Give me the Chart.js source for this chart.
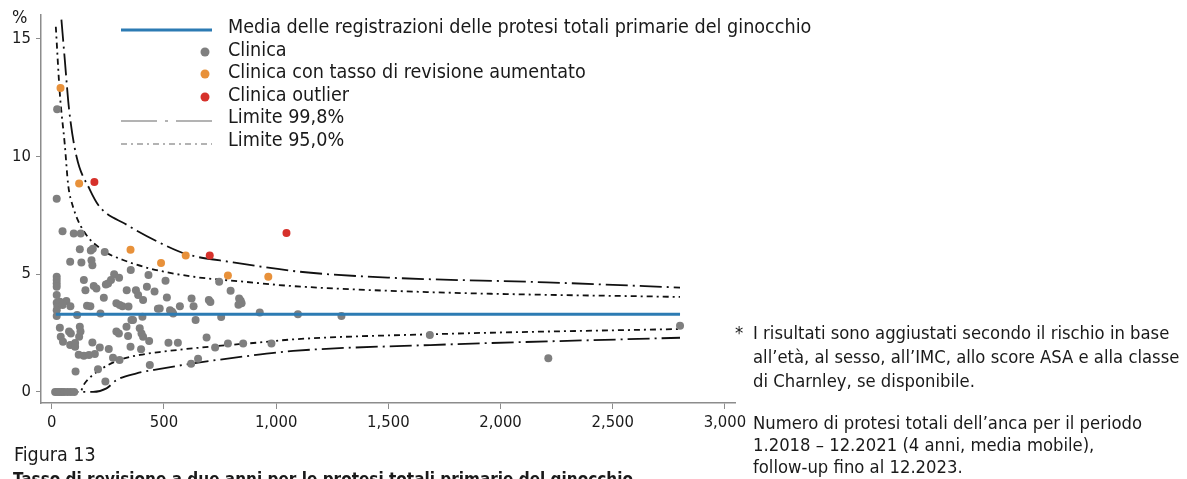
<!DOCTYPE html>
<html>
<head>
<meta charset="utf-8">
<script src="https://cdn.jsdelivr.net/npm/chart.js@4.4.1/dist/chart.umd.min.js"></script>
<style>
body { margin: 0; background: #fff; overflow: hidden; width: 1187px; height: 479px; position: relative;
       font-family: 'Liberation Sans Narrow', 'DejaVu Sans Condensed', sans-serif; color: #1a1a1a; }
#myChart { position: absolute; left: 0; top: 0; }
.note { position: absolute; font-size: 18.3px; line-height: 24px; white-space: nowrap; }
</style>
</head>
<body>
<canvas id="myChart" width="1187" height="479"></canvas>
<div class="note" style="left:12px;top:5px;font-size:18px;">%</div>
<div class="note" style="left:735px;top:321px;">*</div>
<div class="note" style="left:753px;top:321px;">I risultati sono aggiustati secondo il rischio in base<br>all’età, al sesso, all’IMC, allo score ASA e alla classe<br>di Charnley, se disponibile.</div>
<div class="note" style="left:753px;top:412px;line-height:22px;">Numero di protesi totali dell’anca per il periodo<br>1.2018 – 12.2021 (4 anni, media mobile),<br>follow-up fino al 12.2023.</div>
<div class="note" style="left:14px;top:443px;font-size:19.5px;">Figura 13</div>
<div class="note" style="left:13px;top:467px;font-size:17px;font-weight:bold;">Tasso di revisione a due anni per le protesi totali primarie del ginocchio</div>
<script>
// cliniche (numero di protesi, tasso di revisione %)
var clinicaN = [22, 24, 48, 98, 129, 125, 174, 183, 236, 82, 132, 177, 181, 352, 746,
    22, 22, 22, 22, 22, 22, 25, 22, 22, 143, 150, 187, 199, 241, 251, 278, 300, 264,
    334, 375, 385, 424, 431, 458, 507, 407, 513, 232, 65, 83, 36, 48, 157, 172, 288,
    303, 315, 342, 473, 481, 527, 536, 571, 623, 632, 700, 707, 797, 835, 842, 846,
    832, 927, 1097, 1291, 755, 641, 541, 404, 217, 113, 36, 40, 50, 77, 85, 82, 104,
    104, 125, 128, 122, 120, 143, 166, 181, 192, 214, 254, 273, 106, 206, 239, 288,
    299, 333, 355, 362, 340, 351, 392, 400, 407, 398, 434, 437, 302, 520, 562, 621,
    652, 690, 728, 785, 853, 979, 1685, 2213, 2800, 15, 25, 35, 45, 55, 70, 85, 100];
var clinicaRate = [8.2, 12.0, 6.82, 6.72, 6.72, 6.05, 6.0, 6.08, 5.94, 5.52, 5.49, 5.59, 5.38, 5.17, 4.68,
    4.89, 4.75, 4.6, 4.46, 4.11, 3.78, 3.64, 3.47, 3.22, 4.75, 4.32, 4.49, 4.39, 4.56, 4.6, 4.99, 4.84, 4.75,
    4.32, 4.32, 4.11, 4.46, 4.96, 4.26, 4.72, 3.9, 4.01, 4.0, 3.86, 3.64, 3.83, 3.69, 3.66, 3.64, 3.76,
    3.69, 3.64, 3.62, 3.53, 3.54, 3.47, 3.4, 3.64, 3.97, 3.64, 3.9, 3.82, 4.29, 3.97, 3.87, 3.76,
    3.7, 3.37, 3.3, 3.22, 3.18, 3.05, 3.33, 3.19, 3.33, 3.26, 2.72, 2.34, 2.13, 2.56, 2.48, 1.99, 2.08,
    1.92, 2.77, 2.56, 2.34, 1.58, 1.54, 1.57, 2.1, 1.61, 1.88, 1.82, 1.45, 0.87, 0.96, 0.44, 2.56,
    2.48, 2.77, 3.05, 3.05, 2.37, 1.92, 2.7, 2.48, 2.34, 1.81, 2.16, 1.14, 1.36, 2.09, 2.09, 1.2,
    1.41, 2.31, 1.89, 2.06, 2.06, 2.06, 2.42, 1.43, 2.81, 0, 0, 0, 0, 0, 0, 0, 0];

var aumentatoN = [39, 122, 351, 487, 597, 785, 965];
var aumentatoRate = [12.9, 8.84, 6.03, 5.47, 5.79, 4.94, 4.89];

var outlierN = [190, 704, 1046];
var outlierRate = [8.91, 5.79, 6.74];

// media e limiti
var mediaN = [18, 2800];
var mediaRate = [3.3, 3.3];

var sup998N = [43, 58, 77, 110, 169, 214, 333, 467, 600, 808, 1106, 1500, 2205, 2800];
var sup998 = [15.8, 14.1, 12.0, 10.0, 8.6, 7.85, 7.1, 6.4, 5.85, 5.5, 5.1, 4.85, 4.65, 4.43];
var inf998N = [20, 184, 244, 288, 378, 496, 630, 853, 1076, 1686, 2800];
var inf998 = [0, 0, 0.15, 0.5, 0.79, 1.0, 1.21, 1.5, 1.74, 1.99, 2.3];

var sup950N = [18, 36, 58, 73, 95, 140, 229, 318, 437, 630, 853, 1076, 1700, 2800];
var sup950 = [15.5, 12.65, 10.5, 8.8, 7.85, 6.86, 6.0, 5.6, 5.24, 4.89, 4.68, 4.49, 4.23, 4.03];
var inf950N = [20, 125, 147, 214, 303, 392, 496, 704, 927, 1076, 1700, 2800];
var inf950 = [0, 0, 0.37, 0.93, 1.36, 1.57, 1.71, 1.92, 2.1, 2.23, 2.45, 2.67];

var xTicks = [0, 500, 1000, 1500, 2000, 2500, 3000];
var yTicks = [0, 5, 10, 15];

var legendLabels = ['Media delle registrazioni delle protesi totali primarie del ginocchio',
    'Clinica', 'Clinica con tasso di revisione aumentato', 'Clinica outlier',
    'Limite 99,8%', 'Limite 95,0%'];

var FONT = "'Liberation Sans Narrow', 'DejaVu Sans Condensed', sans-serif";
var GREY = '#7f7f7f', ORANGE = '#e8913a', RED = '#d6312b', BLUE = '#2c7bb3', AXIS = '#8c8c8c';
var DASH998 = [22, 5, 2, 5], DASH950 = [6, 4, 2, 4];

function pts(xs, ys) {
    return xs.map(function (x, i) { return { x: x, y: ys[i] }; });
}

function limitLine(xs, ys, dash) {
    return {
        type: 'line', data: pts(xs, ys), borderColor: '#111', borderWidth: 1.8,
        borderDash: dash, pointRadius: 0, cubicInterpolationMode: 'monotone', order: 3
    };
}

function dots(xs, ys, color, ord) {
    return {
        type: 'scatter', data: pts(xs, ys), backgroundColor: color, borderWidth: 0,
        pointRadius: 4, order: ord
    };
}

var canvas = document.getElementById('myChart');
new Chart(canvas, {
    data: {
        datasets: [
            limitLine(sup998N, sup998, DASH998),
            limitLine(inf998N, inf998, DASH998),
            limitLine(sup950N, sup950, DASH950),
            limitLine(inf950N, inf950, DASH950),
            dots(clinicaN, clinicaRate, GREY, 2),
            { type: 'line', data: pts(mediaN, mediaRate), borderColor: BLUE, borderWidth: 3, pointRadius: 0, order: 1 },
            dots(aumentatoN, aumentatoRate, ORANGE, 0),
            dots(outlierN, outlierRate, RED, 0)
        ]
    },
    options: {
        responsive: false,
        animation: false,
        layout: { padding: { left: 0, right: 452, top: 14, bottom: 0 } },
        plugins: { legend: { display: false }, tooltip: { enabled: false } },
        scales: {
            x: {
                type: 'linear', min: -48, max: 3045,
                afterFit: function (s) { s.height = 76; },
                afterBuildTicks: function (s) { s.ticks = xTicks.map(function (v) { return { value: v }; }); },
                border: { display: true, color: AXIS, width: 1.5 },
                grid: { display: true, drawOnChartArea: false, drawTicks: true, tickLength: 6, color: AXIS },
                ticks: {
                    color: '#1a1a1a', padding: 4, maxRotation: 0,
                    font: { family: FONT, size: 16.5 },
                    callback: function (v) { return v.toLocaleString('en-US'); }
                }
            },
            y: {
                type: 'linear', min: -0.47, max: 16,
                afterFit: function (s) { s.width = 41; },
                afterBuildTicks: function (s) { s.ticks = yTicks.map(function (v) { return { value: v }; }); },
                border: { display: true, color: AXIS, width: 1.5 },
                grid: { display: true, drawOnChartArea: false, drawTicks: true, tickLength: 5, color: AXIS },
                ticks: { color: '#1a1a1a', padding: 5, font: { family: FONT, size: 16.5 } }
            }
        }
    },
    plugins: [{
        id: 'legenda',
        afterDraw: function (chart) {
            var ctx = chart.ctx;
            var rows = [28, 51, 73, 96, 118, 141];
            ctx.save();
            // simboli
            ctx.lineWidth = 3;
            ctx.strokeStyle = BLUE;
            ctx.beginPath(); ctx.moveTo(121, 30); ctx.lineTo(212, 30); ctx.stroke();
            [GREY, ORANGE, RED].forEach(function (c, i) {
                ctx.fillStyle = c;
                ctx.beginPath(); ctx.arc(205, rows[i + 1] + 1, 4.5, 0, Math.PI * 2); ctx.fill();
            });
            ctx.strokeStyle = '#9a9a9a';
            ctx.lineWidth = 1.6;
            ctx.setLineDash([36, 8, 3, 8]);
            ctx.beginPath(); ctx.moveTo(121, 121); ctx.lineTo(212, 121); ctx.stroke();
            ctx.setLineDash([6, 4, 2, 4]);
            ctx.beginPath(); ctx.moveTo(121, 144); ctx.lineTo(212, 144); ctx.stroke();
            ctx.setLineDash([]);
            // testi
            ctx.fillStyle = '#1a1a1a';
            ctx.font = '19.6px ' + FONT;
            ctx.textBaseline = 'middle';
            legendLabels.forEach(function (t, i) { ctx.fillText(t, 228, rows[i]); });
            ctx.restore();
        }
    }]
});
</script>
</body>
</html>
